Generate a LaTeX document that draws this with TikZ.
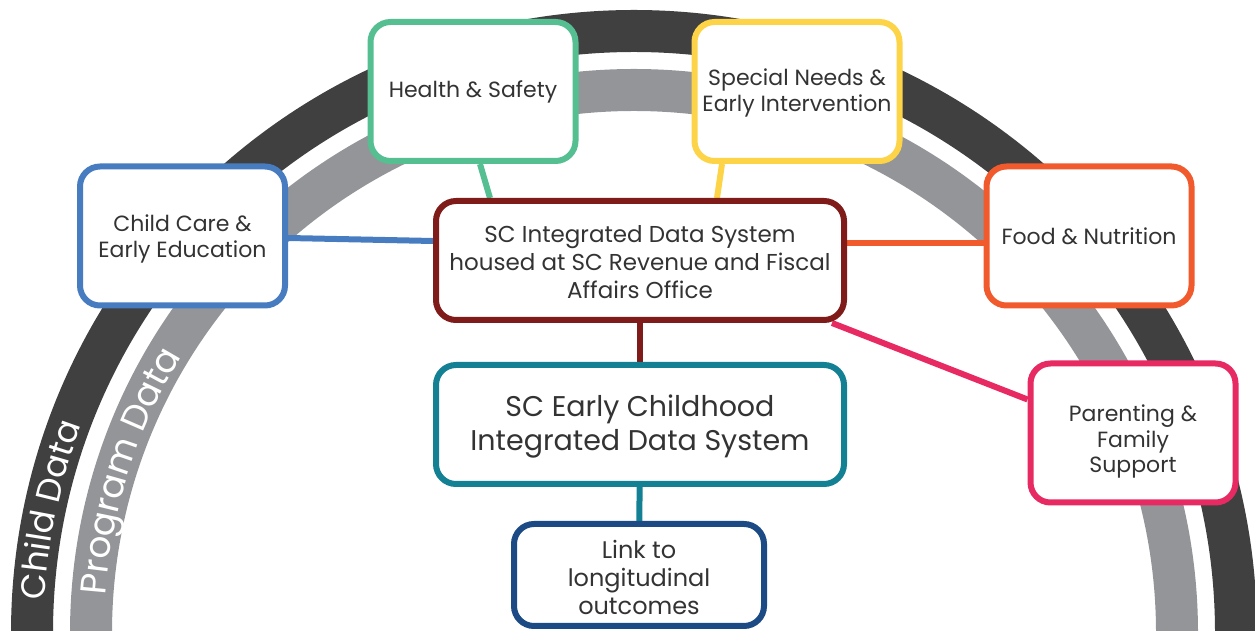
\documentclass[tikz,border=0pt]{standalone}
\usepackage{fontspec}
\setmainfont{Poppins}
\usetikzlibrary{backgrounds,decorations.text}

\definecolor{arcdark}{HTML}{404040}
\definecolor{arcgray}{HTML}{939598}
\definecolor{txtgray}{HTML}{333333}
\definecolor{hsgreen}{HTML}{55BF92}
\definecolor{snyellow}{HTML}{FDD347}
\definecolor{ccblue}{HTML}{477CC0}
\definecolor{fnorange}{HTML}{F05A2C}
\definecolor{pfpink}{HTML}{E72A62}
\definecolor{idsred}{HTML}{7F1B18}
\definecolor{ecteal}{HTML}{138193}
\definecolor{lonavy}{HTML}{1B4A84}

\begin{document}
\begin{tikzpicture}[x=1pt,y=1pt,
    topic/.style={draw, fill=white, line width=6pt, rounded corners=20pt,
      align=center, text=txtgray, inner sep=0pt,
      minimum width=205pt, minimum height=139pt,
      font=\fontsize{22}{26}\selectfont},
    hub/.style={topic, minimum width=408pt, minimum height=119pt},
    wire/.style={line width=6pt},
    band/.style={line width=42pt}]
    \useasboundingbox (0,0) rectangle (1255,631);
    \clip (0,0) rectangle (1255,631);

    % data systems
    \node[hub, draw=idsred, font=\fontsize{23}{28}\selectfont] (ids) at (640,370.5)
      {\rule{0pt}{21pt}SC Integrated Data System\\housed at SC Revenue and Fiscal\\Affairs Office};
    \node[hub, draw=ecteal, font=\fontsize{28.5}{34}\selectfont] (ecids) at (640,206.5)
      {\rule{0pt}{26pt}SC Early Childhood\\Integrated Data System};
    \node[topic, draw=lonavy, minimum width=250pt, minimum height=102pt,
      font=\fontsize{24}{28}\selectfont] (outcomes) at (639,56)
      {\rule{0pt}{24pt}Link to\\longitudinal\\outcomes};

    % program areas
    \node[topic, draw=hsgreen] (health) at (473,539.5) {Health \& Safety};
    \node[topic, draw=snyellow] (special) at (797,539.5)
      {\rule{0pt}{20pt}Special Needs \&\\Early Intervention};
    \node[topic, draw=ccblue] (care) at (182.5,395)
      {\rule{0pt}{22pt}Child Care \&\\Early Education};
    \node[topic, draw=fnorange] (food) at (1089,395) {Food \& Nutrition};
    \node[topic, draw=pfpink, font=\fontsize{22}{25.5}\selectfont] (parent) at (1133,198)
      {\rule{0pt}{34pt}Parenting \&\\Family\\Support};

    \begin{scope}[on background layer]
      % the two rings
      \draw[band, arcdark] (1236,-2) arc[start angle=0, end angle=180, radius=602];
      \draw[band, arcgray] (1177,-2) arc[start angle=0, end angle=180, radius=543];
      \begin{scope}[shift={(634,-2)}]
        \path[decorate, decoration={text along path, text color=white,
          text={|\fontsize{34}{34}\selectfont|Child Data}}]
          (176.8:590) arc[start angle=176.8, end angle=120, radius=590];
        \path[decorate, decoration={text along path, text color=white,
          text={|\fontsize{36}{36}\selectfont|Program Data}}]
          (175.9:530) arc[start angle=175.9, end angle=100, radius=530];
      \end{scope}

      % connectors
      \draw[wire, hsgreen] ([xshift=7pt]health.south) -- ([xshift=-150pt]ids.north);
      \draw[wire, snyellow] ([xshift=-75pt]special.south) -- ([xshift=77pt]ids.north);
      \draw[wire, ccblue] ([yshift=-2pt]care.east) -- ([yshift=19.5pt]ids.west);
      \draw[wire, fnorange] ([yshift=-7pt]food.west) -- ([yshift=17.5pt]ids.east);
      \draw[wire, pfpink] ([xshift=-15pt]ids.south east) -- ([yshift=33.5pt]parent.west);
      \draw[wire, idsred] (ids) -- (ecids);
      \draw[wire, ecteal] (ecids) -- (outcomes);
    \end{scope}
\end{tikzpicture}
\end{document}
